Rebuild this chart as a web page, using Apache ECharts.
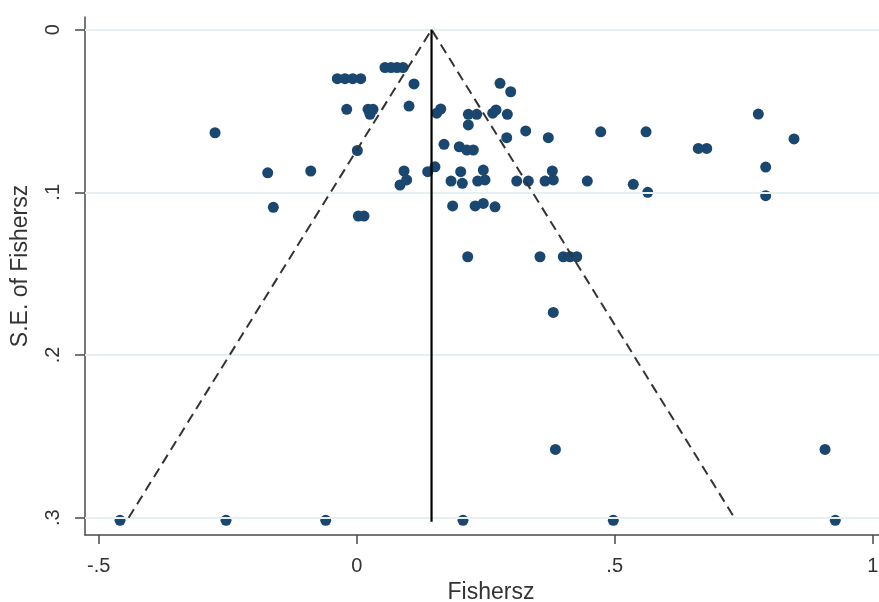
<!DOCTYPE html>
<html>
<head>
<meta charset="utf-8">
<script src="https://cdn.jsdelivr.net/npm/echarts@6/dist/echarts.min.js"></script>
<style>
  html, body { margin: 0; padding: 0; background: #ffffff; }
  #chart { width: 879px; height: 602px; }
</style>
</head>
<body>
<div id="chart"></div>
<script>
// ---- data ----
const fishersz = [
  -0.2746, -0.1725, -0.0891, -0.1616,
  -0.0376, -0.0227, -0.0078, 0.0078,
  0.0548, 0.0665, 0.0781, 0.0897,
  0.1110, -0.0194, 0.0219, 0.0316, 0.0258, 0.1014,
  0.1550, 0.1628, 0.0012, 0.0917, 0.0968, 0.0839,
  0.1376, 0.1517, 0.0031, 0.0141,
  0.2777, 0.2984, 0.2163, 0.2326, 0.2163,
  0.2636, 0.2700, 0.2919, 0.3275, 0.2907, 0.3713, 0.4729,
  0.1692, 0.1988, 0.2132, 0.2260,
  0.1828, 0.2015, 0.2047, 0.2344, 0.2453, 0.2486,
  0.3101, 0.3326, 0.3650, 0.3791, 0.3810, 0.4469,
  0.1859, 0.2295, 0.2453, 0.2680,
  0.5607, 0.6620, 0.6783, 0.7783, 0.8475, 0.7926, 0.7926,
  0.5360, 0.5640,
  0.2151, 0.3552, 0.4004, 0.4134, 0.4264,
  0.3810, 0.3851, 0.9076,
  -0.4587, -0.2533, -0.0601, 0.2060, 0.4973, 0.9275
];
const seFishersz = [
  0.0634, 0.0880, 0.0869, 0.1092,
  0.0302, 0.0302, 0.0302, 0.0302,
  0.0233, 0.0233, 0.0233, 0.0233,
  0.0334, 0.0490, 0.0490, 0.0490, 0.0521, 0.0470,
  0.0514, 0.0488, 0.0743, 0.0869, 0.0924, 0.0955,
  0.0873, 0.0843, 0.1146, 0.1146,
  0.0330, 0.0382, 0.0521, 0.0521, 0.0586,
  0.0514, 0.0494, 0.0521, 0.0623, 0.0664, 0.0664, 0.0628,
  0.0705, 0.0720, 0.0740, 0.0740,
  0.0931, 0.0873, 0.0945, 0.0931, 0.0863, 0.0924,
  0.0931, 0.0931, 0.0931, 0.0869, 0.0924, 0.0931,
  0.1084, 0.1084, 0.1068, 0.1089,
  0.0628, 0.0730, 0.0730, 0.0519, 0.0672, 0.0845, 0.1021,
  0.0951, 0.1000,
  0.1396, 0.1396, 0.1396, 0.1396, 0.1396,
  0.1738, 0.2580, 0.2580,
  0.3016, 0.3016, 0.3016, 0.3016, 0.3016, 0.3016
];
// pseudo 95% confidence limits (dashed) and pooled estimate (solid)
const funnelX = [-0.442, 0.145, 0.732];
const funnelSE = [0.300, 0.000, 0.300];
const pooledX = [0.145, 0.145];
const pooledSE = [0.000, 0.3025];
// axis ticks
const xTicks = [-0.5, 0, 0.5, 1];
const yTicks = [0, 0.1, 0.2, 0.3];

const fmt = v => {
  if (v === 0) return '0';
  return String(v).replace('0.', '.');
};

const points = fishersz.map((x, i) => [x, seFishersz[i]]);
const funnel = funnelX.map((x, i) => [x, funnelSE[i]]);
const pooled = pooledX.map((x, i) => [x, pooledSE[i]]);

const chart = echarts.init(document.getElementById('chart'), null, { renderer: 'canvas' });
const axisColor = '#4a4a4a';
const textColor = '#333333';
const fontFamily = '"Liberation Sans", Arial, Helvetica, sans-serif';

chart.setOption({
  animation: false,
  backgroundColor: '#ffffff',
  grid: { left: 85, right: 0, top: 17, bottom: 67, containLabel: false, outerBoundsMode: 'none' },
  xAxis: {
    type: 'value',
    min: -0.5266,
    max: 1.0122,
    name: 'Fishersz',
    nameLocation: 'middle',
    nameGap: 46,
    nameTextStyle: { color: textColor, fontSize: 23, fontFamily, padding: [0, 0, 0, 18] },
    axisLine: { show: true, onZero: false, lineStyle: { color: axisColor, width: 1.5 } },
    axisTick: { show: true, length: 9, customValues: xTicks, lineStyle: { color: axisColor, width: 1.5 } },
    axisLabel: { customValues: xTicks, formatter: fmt, color: textColor, fontSize: 20, fontFamily, margin: 21 },
    splitLine: { show: false }
  },
  yAxis: {
    type: 'value',
    inverse: true,
    min: -0.00774,
    max: 0.3106,
    name: 'S.E. of Fishersz',
    nameLocation: 'middle',
    nameGap: 53,
    nameRotate: 90,
    nameTextStyle: { color: textColor, fontSize: 23, fontFamily, padding: [0, 0, 0, 20] },
    axisLine: { show: true, onZero: false, lineStyle: { color: axisColor, width: 1.5 } },
    axisTick: { show: true, length: 10, customValues: yTicks, lineStyle: { color: axisColor, width: 1.5 } },
    axisLabel: { customValues: yTicks, formatter: fmt, rotate: 90, color: textColor, fontSize: 20, fontFamily, margin: 22 },
    splitLine: { show: false }
  },
  series: [
    {
      name: 'grid',
      type: 'line',
      data: [],
      z: 0,
      silent: true,
      markLine: {
        silent: true,
        symbol: ['none', 'none'],
        label: { show: false },
        lineStyle: { color: '#e6eff1', width: 2, type: 'solid' },
        emphasis: { disabled: true },
        data: yTicks.map(v => ({ yAxis: v }))
      }
    },
    {
      name: 'Studies',
      type: 'scatter',
      data: points,
      symbol: 'circle',
      symbolSize: 11,
      itemStyle: { color: '#1a476f', opacity: 1 },
      z: 3
    },
    {
      name: 'Pseudo 95% CI',
      type: 'line',
      data: funnel,
      showSymbol: false,
      symbol: 'none',
      lineStyle: { color: '#333333', width: 2, type: [10, 6] },
      z: 5
    },
    {
      name: 'Pooled',
      type: 'line',
      data: pooled,
      showSymbol: false,
      symbol: 'none',
      lineStyle: { color: '#000000', width: 2.2 },
      z: 5
    }
  ]
});
</script>
</body>
</html>
